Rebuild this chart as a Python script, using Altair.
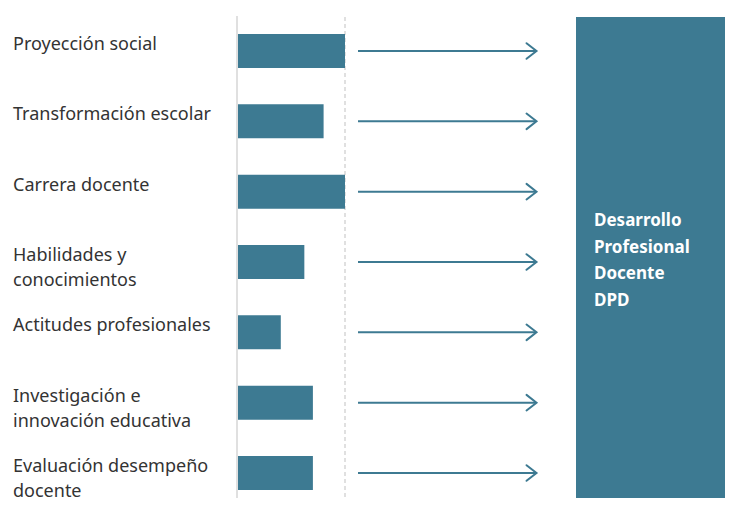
import altair as alt
import pandas as pd

# --- data ---
categories = [
    "Proyección social",
    "Transformación escolar",
    "Carrera docente",
    "Habilidades y\nconocimientos",
    "Actitudes profesionales",
    "Investigación e\ninnovación educativa",
    "Evaluación desempeño\ndocente",
]
values = [1.0, 0.80, 1.0, 0.62, 0.40, 0.70, 0.70]
box_label = "Desarrollo\nProfesional\nDocente\nDPD"

TEAL = "#3d7a92"
GRID = "#d9d9d9"
TEXT = "#333333"

df = pd.DataFrame({"cat": categories, "val": values})
guide_solid = pd.DataFrame({"pos": [0.0]})
guide_dash = pd.DataFrame({"pos": [1.0]})
box_df = pd.DataFrame({"label": [box_label]})

xscale = alt.Scale(domain=[0, 1], range=[230, 337])
yscale = alt.Scale(domain=categories, range=[26, 482], paddingInner=0.5166, paddingOuter=0)

Y = alt.Y("cat:N", scale=yscale, sort=categories, axis=None)

solid = alt.Chart(guide_solid).mark_rule(color=GRID, strokeWidth=1.6, xOffset=-1).encode(
    x=alt.X("pos:Q", scale=xscale, axis=None),
    y=alt.value(8), y2=alt.value(490),
)

dashed = alt.Chart(guide_dash).mark_rule(color=GRID, strokeWidth=1.6, strokeDash=[4, 3]).encode(
    x=alt.X("pos:Q", scale=xscale, axis=None),
    y=alt.value(9), y2=alt.value(490),
)

bars = alt.Chart(df).mark_bar(color=TEAL).encode(
    x=alt.X("val:Q", scale=xscale, axis=None),
    y=Y,
)

shafts = alt.Chart(df).mark_rule(color=TEAL, strokeWidth=2).encode(
    x=alt.value(350), x2=alt.value(528),
    y=Y,
)

heads = alt.Chart(df).mark_point(
    shape="M -1.28 -1 L 0 0 L -1.28 1",
    filled=False, color=TEAL, strokeWidth=2, size=243, opacity=1,
    strokeCap="round", strokeJoin="miter",
).encode(
    x=alt.value(528.5),
    y=Y,
)

labels = alt.Chart(df).mark_text(
    align="left", baseline="alphabetic", font="Noto Sans", fontSize=18,
    color=TEXT, lineBreak="\n", lineHeight=25, dy=-1,
).encode(
    x=alt.value(5),
    y=Y,
    text="cat:N",
)

box = alt.Chart(box_df).mark_rect(color=TEAL).encode(
    x=alt.value(568), x2=alt.value(717),
    y=alt.value(9), y2=alt.value(490),
)

box_text = alt.Chart(box_df).mark_text(
    align="left", baseline="alphabetic", font="Noto Sans", fontSize=17,
    fontWeight="bold", color="white", lineBreak="\n", lineHeight=26.5,
).encode(
    x=alt.value(586), y=alt.value(218),
    text="label:N",
)

chart = alt.layer(
    solid, dashed, bars, shafts, heads, labels, box, box_text
).properties(
    width=717, height=490,
    autosize=alt.AutoSizeParams(type="none"),
    padding=0,
).configure_view(stroke=None)

chart.save("out.html", embed_options={"renderer": "svg", "actions": False})
